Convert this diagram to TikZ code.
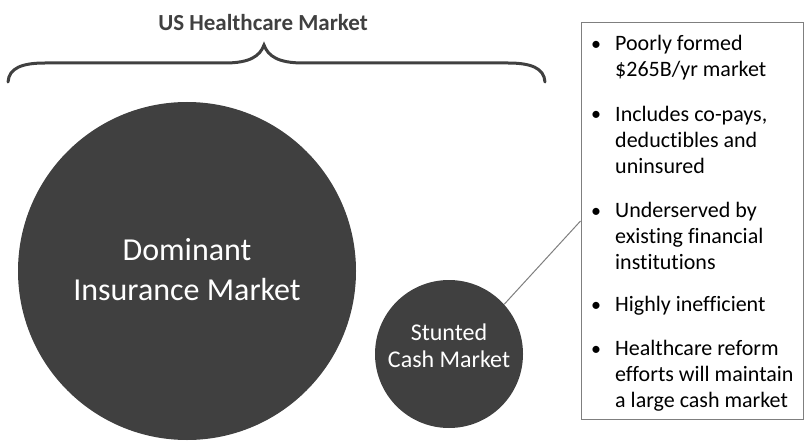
\documentclass[tikz,border=0pt]{standalone}
\usepackage{fontspec}
\setmainfont{Carlito}[Ligatures=NoCommon]
\definecolor{dk}{HTML}{404040}
\definecolor{edge}{HTML}{7F7F7F}
\begin{document}
\begin{tikzpicture}[x=1pt,y=-1pt,
  bubble/.style={circle,fill=dk,draw=none,inner sep=0pt},
  bubbletext/.style={text=white,align=center,inner sep=0pt},
  bullettext/.style={anchor=base west,inner sep=0pt,align=left,font=\fontsize{22}{26}\selectfont},
  dot/.style={anchor=base,inner sep=0pt,font=\fontsize{20}{26}\selectfont},
  bracepath/.style={draw=dk,line width=3pt,line cap=round},
  link/.style={draw=edge,line width=1pt}]
\useasboundingbox (0,0) rectangle (805,441);
% title and brace
\node[anchor=base,inner sep=0pt,text=dk,font=\fontsize{23}{28}\selectfont\bfseries] (title) at (263,31) {US Healthcare Market};
\coordinate (bl) at (8,82);
\coordinate (br) at (545,82);
\coordinate (tip) at (264,45);
\draw[bracepath] (bl) .. controls (9,68) and (22,63) .. (45,63) -- (225,63)
  .. controls (250,63) and (260,56) .. (tip)
  .. controls (268,56) and (278,63) .. (303,63) -- (508,63)
  .. controls (531,63) and (544,68) .. (br);
% circles
\node[bubble,minimum size=338pt] (dom) at (187,271) {};
\node[bubbletext,font=\fontsize{32}{40}\selectfont,anchor=base] (domtxt) at (187,300) {Dominant\\Insurance Market};
\node[bubble,minimum size=148pt] (cash) at (449,354) {};
\node[bubbletext,font=\fontsize{24}{27}\selectfont,anchor=base] (cashtxt) at (449,367) {Stunted\\Cash Market};
% box
\node[draw=edge,line width=1pt,minimum width=222pt,minimum height=396pt,inner sep=0pt] (box) at (692,221) {};
\draw[link] (cash.42) -- (box.west);
% bullets
\node[dot] (d1) at (596,51) {•};
\node[bullettext] (t1) at (615,77) {Poorly formed\\\$265B/yr market};
\node[dot] (d2) at (596,121) {•};
\node[bullettext] (t2) at (615,173) {Includes co-pays,\\deductibles and\\uninsured};
\node[dot] (d3) at (596,217) {•};
\node[bullettext] (t3) at (615,269) {Underserved by\\existing financial\\institutions};
\node[dot] (d4) at (596,311) {•};
\node[bullettext] (t4) at (615,311) {Highly inefficient};
\node[dot] (d5) at (596,355) {•};
\node[bullettext] (t5) at (615,407) {Healthcare reform\\efforts will maintain\\a large cash market};
\end{tikzpicture}
\end{document}
